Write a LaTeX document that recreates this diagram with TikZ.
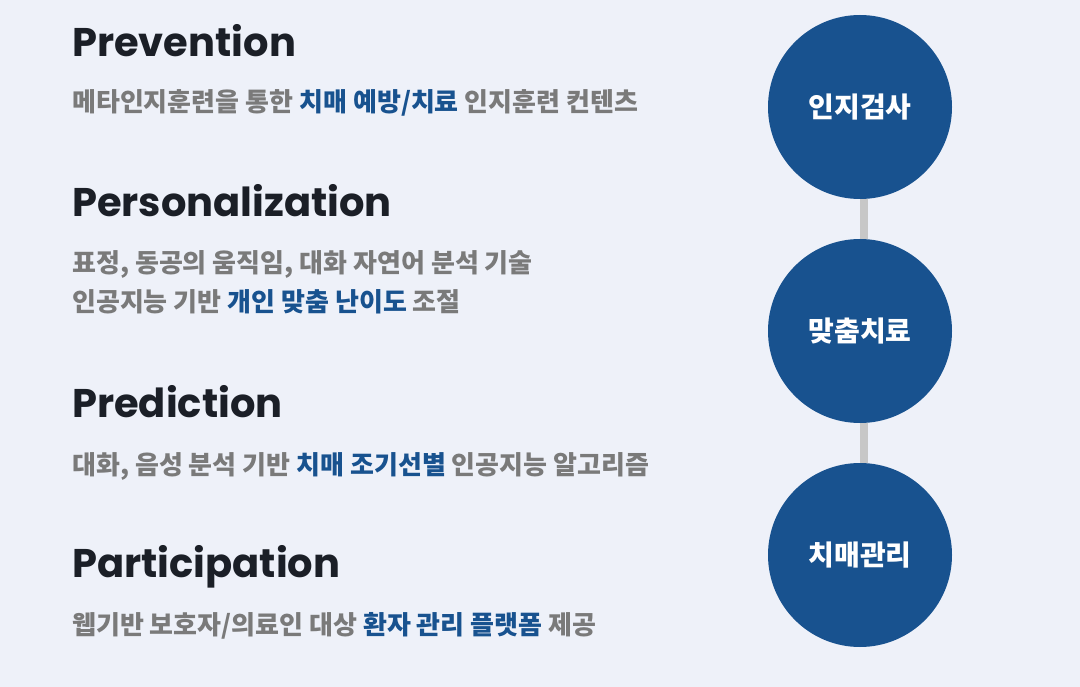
\documentclass[tikz,border=0pt]{standalone}
\usepackage{fontspec}
\usepackage{xcolor}
\usepackage{tikz}
\newfontfamily\headfont{Poppins}
\newfontfamily\kofont{Noto Sans CJK KR}

\definecolor{bgpale}{HTML}{EEF1F9}
\definecolor{headdark}{HTML}{1B1F27}
\definecolor{textgray}{HTML}{7A7A7A}
\definecolor{mainblue}{HTML}{18528F}
\definecolor{linegray}{HTML}{C7C7C7}

\newcommand{\hilite}[1]{\textcolor{mainblue}{#1}}

\pgfdeclarelayer{back}
\pgfsetlayers{back,main}

\begin{document}
\begin{tikzpicture}
  [x=1pt,y=-1pt,
   headline/.style={anchor=base west,inner sep=0pt,text=headdark,
     font=\headfont\bfseries\fontsize{40}{42}\selectfont},
   desc/.style={anchor=base west,inner sep=0pt,text=textgray,
     font=\kofont\bfseries\fontsize{26}{30}\selectfont},
   stage/.style={circle,fill=mainblue,minimum size=184pt,inner sep=0pt,text=white,
     font=\kofont\bfseries\fontsize{28}{30}\selectfont}]
  \useasboundingbox (0,0) rectangle (1080,687);

  \node[headline] (prev) at (72,57) {Prevention};
  \node[desc] (prevtxt) at (72,112) {메타인지훈련을 통한 \hilite{치매 예방/치료} 인지훈련 컨텐츠};

  \node[headline] (pers) at (72,217) {Personalization};
  \node[desc] (perstxt1) at (72,273) {표정, 동공의 움직임, 대화 자연어 분석 기술};
  \node[desc] (perstxt2) at (72,312) {인공지능 기반 \hilite{개인 맞춤 난이도} 조절};

  \node[headline] (pred) at (72,417) {Prediction};
  \node[desc] (predtxt) at (72,474) {대화, 음성 분석 기반 \hilite{치매 조기선별} 인공지능 알고리즘};

  \node[headline] (part) at (72,577) {Participation};
  \node[desc] (parttxt) at (72,634) {웹기반 보호자/의료인 대상 \hilite{환자 관리 플랫폼} 제공};

  \node[stage] (test) at (860,107) {인지검사};
  \node[stage] (care) at (860,331) {맞춤치료};
  \node[stage] (manage) at (860,555) {치매관리};

  \begin{pgfonlayer}{back}
    \fill[bgpale] (0,0) rectangle (1080,687);
    \foreach \from/\to in {test/care, care/manage}
      \draw[linegray,line width=8pt] ([xshift=4pt]\from.south) -- ([xshift=4pt]\to.north);
  \end{pgfonlayer}

\end{tikzpicture}
\end{document}
